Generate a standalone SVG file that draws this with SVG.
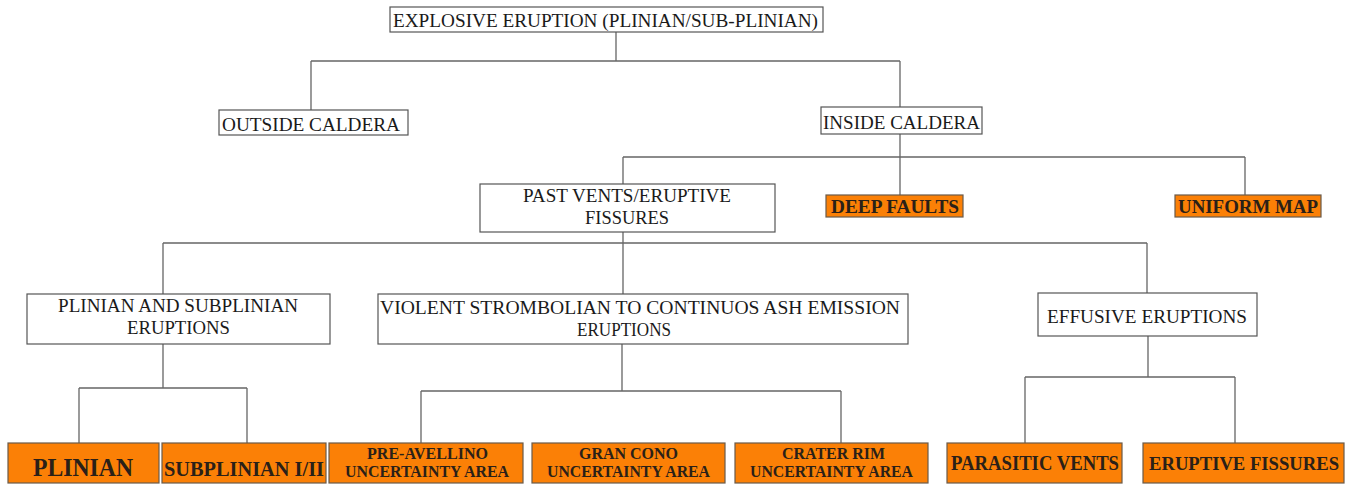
<svg xmlns="http://www.w3.org/2000/svg" width="1353" height="485" viewBox="0 0 1353 485">
<style>
.w{fill:#ffffff;stroke:#555555;stroke-width:1.2}
.o{fill:#fb8006;stroke:#6a5a4a;stroke-width:1.2}
.t{font-family:'Liberation Serif','Times New Roman','DejaVu Serif',serif;font-size:18px;fill:#1a1a1a}
.b{font-family:'Liberation Serif','Times New Roman','DejaVu Serif',serif;font-weight:bold;fill:#2a2018}
.c{fill:none;stroke:#666666;stroke-width:1.3}
</style>
<rect width="1353" height="485" fill="#ffffff"/>
<g id="connectors" class="c">
<path d="M616,32V61M311,61H900M311,61V110M900,61V107"/>
<path d="M900,134V157M623,157H1245M623,157V184M900,157V195M1245,157V195"/>
<path d="M623,232V243M163,243H1147M163,243V294M623,243V294M1147,243V293"/>
<path d="M163,344V388M79,388H247M79,388V443M247,388V443"/>
<path d="M622,344V391M421,391H841M421,391V443M841,391V443"/>
<path d="M1148,336V377M1025,377H1235M1025,377V443M1235,377V443"/>
</g>
<g id="n-explosive"><rect class="w" x="390" y="7" width="433" height="25"/><text class="t" x="393" y="27" textLength="425" lengthAdjust="spacingAndGlyphs">EXPLOSIVE ERUPTION (PLINIAN/SUB-PLINIAN)</text></g>
<g id="n-outside"><rect class="w" x="219" y="110" width="189" height="25"/><text class="t" x="222" y="131" textLength="178" lengthAdjust="spacingAndGlyphs">OUTSIDE CALDERA</text></g>
<g id="n-inside"><rect class="w" x="821" y="107" width="161" height="27"/><text class="t" x="823" y="129" textLength="157" lengthAdjust="spacingAndGlyphs">INSIDE CALDERA</text></g>
<g id="n-pastvents"><rect class="w" x="480" y="184" width="295" height="48"/><text class="t" x="523" y="202" textLength="208" lengthAdjust="spacingAndGlyphs">PAST VENTS/ERUPTIVE</text><text class="t" x="585" y="224" textLength="84" lengthAdjust="spacingAndGlyphs">FISSURES</text></g>
<g id="n-deepfaults"><rect class="o" x="826" y="195" width="137" height="22"/><text class="b" x="831" y="213" font-size="18" textLength="128" lengthAdjust="spacingAndGlyphs">DEEP FAULTS</text></g>
<g id="n-uniform"><rect class="o" x="1175" y="195" width="146" height="22"/><text class="b" x="1178" y="213" font-size="18" textLength="140" lengthAdjust="spacingAndGlyphs">UNIFORM MAP</text></g>
<g id="n-plinian-sub"><rect class="w" x="27" y="294" width="303" height="50"/><text class="t" x="58" y="312" textLength="240" lengthAdjust="spacingAndGlyphs">PLINIAN AND SUBPLINIAN</text><text class="t" x="127" y="334" textLength="103" lengthAdjust="spacingAndGlyphs">ERUPTIONS</text></g>
<g id="n-violent"><rect class="w" x="378" y="294" width="530" height="50"/><text class="t" x="380" y="314" textLength="520" lengthAdjust="spacingAndGlyphs">VIOLENT STROMBOLIAN TO CONTINUOS ASH EMISSION</text><text class="t" x="577" y="336" textLength="94" lengthAdjust="spacingAndGlyphs">ERUPTIONS</text></g>
<g id="n-effusive"><rect class="w" x="1038" y="293" width="219" height="43"/><text class="t" x="1047" y="323" textLength="200" lengthAdjust="spacingAndGlyphs">EFFUSIVE ERUPTIONS</text></g>
<g id="n-plinian"><rect class="o" x="8" y="443" width="151" height="40"/><text class="b" x="33" y="476" font-size="25" textLength="100" lengthAdjust="spacingAndGlyphs">PLINIAN</text></g>
<g id="n-subplinian"><rect class="o" x="162" y="443" width="164" height="40"/><text class="b" x="164" y="476" font-size="22" textLength="160" lengthAdjust="spacingAndGlyphs">SUBPLINIAN I/II</text></g>
<g id="n-preavellino"><rect class="o" x="329" y="443" width="194" height="40"/><text class="b" x="367" y="459" font-size="16" textLength="121" lengthAdjust="spacingAndGlyphs">PRE-AVELLINO</text><text class="b" x="345" y="477" font-size="16" textLength="164" lengthAdjust="spacingAndGlyphs">UNCERTAINTY AREA</text></g>
<g id="n-grancono"><rect class="o" x="532" y="443" width="193" height="40"/><text class="b" x="579" y="459" font-size="16" textLength="99" lengthAdjust="spacingAndGlyphs">GRAN CONO</text><text class="b" x="547" y="477" font-size="16" textLength="163" lengthAdjust="spacingAndGlyphs">UNCERTAINTY AREA</text></g>
<g id="n-craterrim"><rect class="o" x="735" y="443" width="193" height="40"/><text class="b" x="782" y="459" font-size="16" textLength="103" lengthAdjust="spacingAndGlyphs">CRATER RIM</text><text class="b" x="750" y="477" font-size="16" textLength="163" lengthAdjust="spacingAndGlyphs">UNCERTAINTY AREA</text></g>
<g id="n-parasitic"><rect class="o" x="947" y="443" width="175" height="40"/><text class="b" x="951" y="470" font-size="20" textLength="168" lengthAdjust="spacingAndGlyphs">PARASITIC VENTS</text></g>
<g id="n-fissures"><rect class="o" x="1143" y="443" width="201" height="40"/><text class="b" x="1149" y="470" font-size="19" textLength="190" lengthAdjust="spacingAndGlyphs">ERUPTIVE FISSURES</text></g>
</svg>
